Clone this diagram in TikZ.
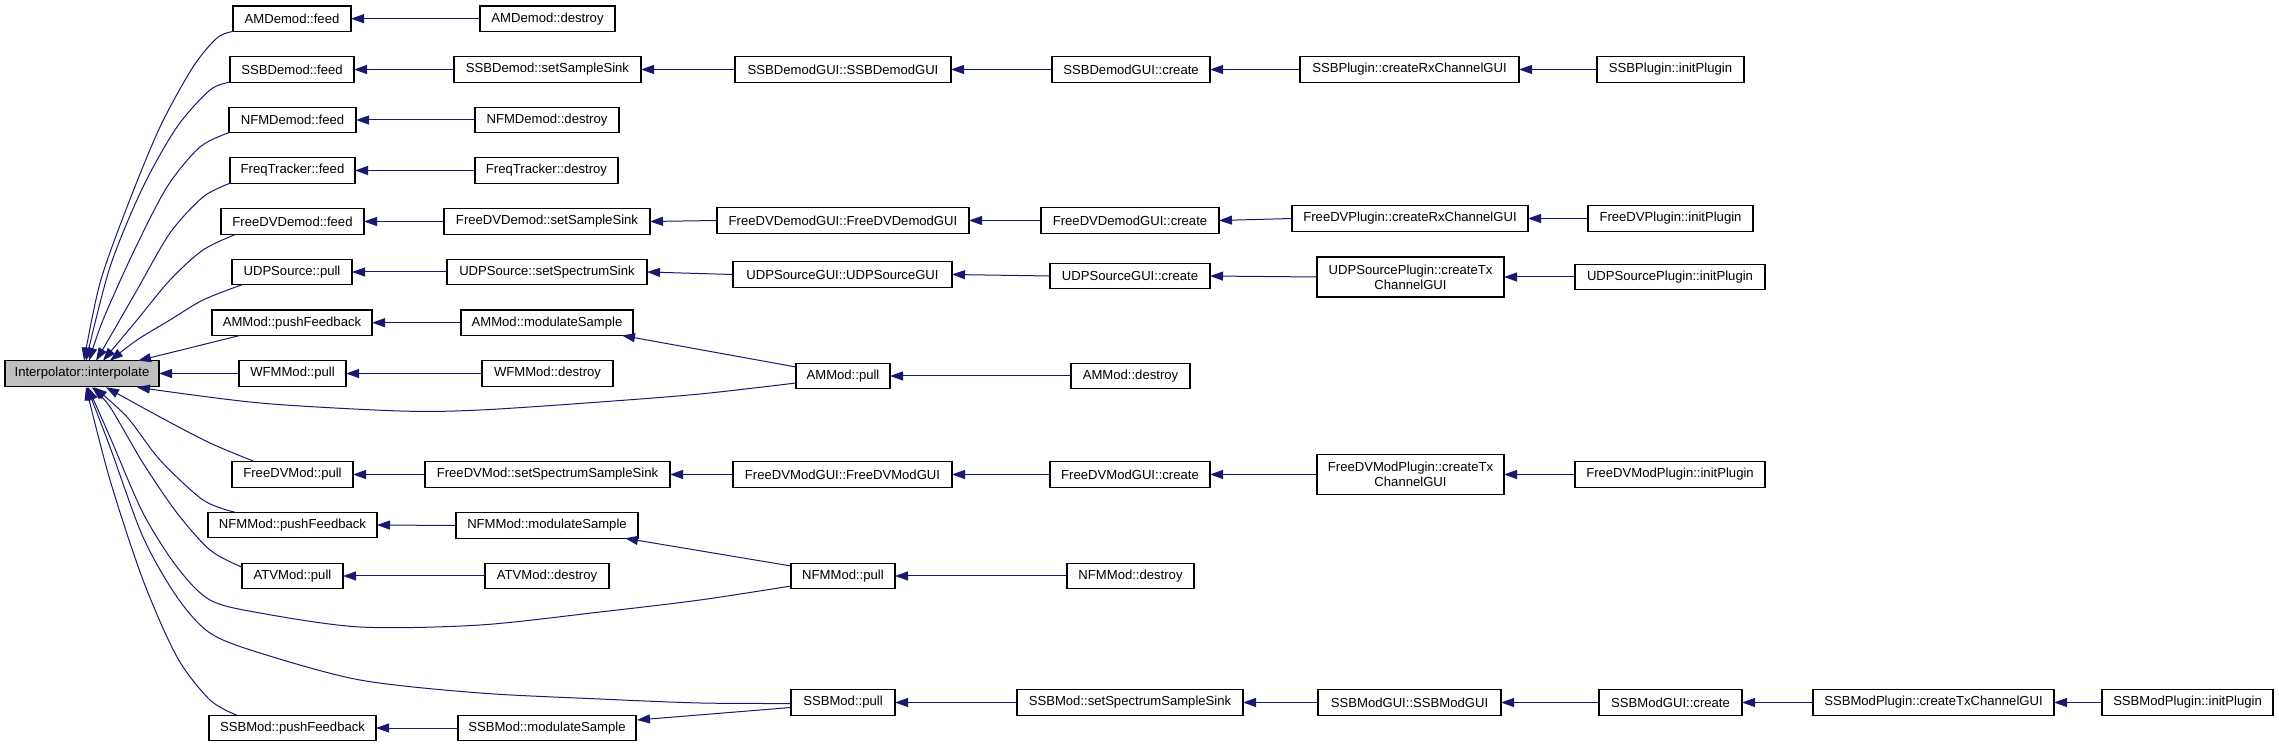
\documentclass[tikz,border=0pt]{standalone}
\usepackage{fontspec}
\setmainfont{Liberation Sans}
\usetikzlibrary{arrows.meta,calc}
\definecolor{edgec}{HTML}{191970}
\definecolor{interpfill}{HTML}{BFBFBF}
\tikzset{
  box/.style={draw=black, line width=0.6pt, rectangle, inner sep=0pt, outer sep=0pt,
    minimum height=12.75pt, font=\fontsize{6.55}{7.5}\selectfont, align=center, fill=white},
  twoline/.style={minimum height=20pt},
  edge/.style={draw=edgec, line width=0.5pt, -{Triangle[length=6.5pt,width=4.5pt]}},
}
\newcommand\nd[6][]{\node[box,#1,minimum width={(#4-#3)*0.5pt}] (#2) at ({(#3+#4)/2},#5) {#6};}
\begin{document}
\begin{tikzpicture}[x=0.5pt,y=-0.5pt]
\useasboundingbox (0,0) rectangle (2279,747);
\fill[white] (0,0) rectangle (2279,747);

% column 1
\nd[fill=interpfill]{interp}{5}{159}{373.5}{Interpolator::interpolate}
% column 2
\nd{amdf}{233}{351}{18.7}{AMDemod::feed}
\nd{ssbdf}{230}{354}{69.5}{SSBDemod::feed}
\nd{nfmdf}{229}{356}{120}{NFMDemod::feed}
\nd{fqtf}{230}{355}{170.5}{FreqTracker::feed}
\nd{fdvdf}{221}{364}{221.5}{FreeDVDemod::feed}
\nd{udpp}{232}{352}{272}{UDPSource::pull}
\nd{ammpf}{212}{372}{322.7}{AMMod::pushFeedback}
\nd{wfmp}{239}{346}{373.5}{WFMMod::pull}
\nd{fdvmp}{232}{353}{474.5}{FreeDVMod::pull}
\nd{nfmpf}{208}{377}{525}{NFMMod::pushFeedback}
\nd{atvp}{242}{343}{576}{ATVMod::pull}
\nd{ssbpf}{209}{376}{728}{SSBMod::pushFeedback}
% column 3
\nd{amdd}{480}{615}{18.7}{AMDemod::destroy}
\nd{ssbdss}{454}{641}{69.5}{SSBDemod::setSampleSink}
\nd{nfmdd}{475}{619}{120}{NFMDemod::destroy}
\nd{fqtd}{475}{618}{170.5}{FreqTracker::destroy}
\nd{fdvdss}{444}{650}{221.5}{FreeDVDemod::setSampleSink}
\nd{udpss}{447}{647}{272}{UDPSource::setSpectrumSink}
\nd{ammms}{461}{633}{322.7}{AMMod::modulateSample}
\nd{wfmd}{482}{613}{373.5}{WFMMod::destroy}
\nd{fdvmss}{425}{670}{474.5}{FreeDVMod::setSpectrumSampleSink}
\nd{nfmms}{456}{638}{525.5}{NFMMod::modulateSample}
\nd{atvd}{485}{609}{576}{ATVMod::destroy}
\nd{ssbms}{458}{636}{728}{SSBMod::modulateSample}
% column 4
\nd{ssbdgui}{735}{951}{69.5}{SSBDemodGUI::SSBDemodGUI}
\nd{fdvdgui}{717}{969}{220.5}{FreeDVDemodGUI::FreeDVDemodGUI}
\nd{udpgui}{733}{952}{274.5}{UDPSourceGUI::UDPSourceGUI}
\nd{ammp}{796}{890}{376}{AMMod::pull}
\nd{fdvmgui}{733}{952}{474.5}{FreeDVModGUI::FreeDVModGUI}
\nd{nfmp}{791}{895}{576}{NFMMod::pull}
\nd{ssbp}{791}{895}{702.5}{SSBMod::pull}
% column 5
\nd{ssbdgc}{1052}{1210}{69.5}{SSBDemodGUI::create}
\nd{fdvdgc}{1041}{1219}{220.5}{FreeDVDemodGUI::create}
\nd{udpgc}{1050}{1210}{276}{UDPSourceGUI::create}
\nd{ammd}{1071}{1190}{376}{AMMod::destroy}
\nd{fdvmgc}{1050}{1210}{474.5}{FreeDVModGUI::create}
\nd{nfmd}{1067}{1194}{576}{NFMMod::destroy}
\nd{ssbss}{1017}{1243}{702.5}{SSBMod::setSpectrumSampleSink}
% column 6
\nd{ssbprx}{1300}{1519}{69.5}{SSBPlugin::createRxChannelGUI}
\nd{fdvprx}{1292}{1528}{218.5}{FreeDVPlugin::createRxChannelGUI}
\nd[twoline]{udpptx}{1317}{1504}{277}{UDPSourcePlugin::createTx\\ChannelGUI}
\nd[twoline]{fdvmptx}{1317}{1504}{474.5}{FreeDVModPlugin::createTx\\ChannelGUI}
\nd{ssbmgui}{1318}{1501}{702.5}{SSBModGUI::SSBModGUI}
% column 7
\nd{ssbpinit}{1597}{1744}{69.5}{SSBPlugin::initPlugin}
\nd{fdvpinit}{1588}{1753}{218.5}{FreeDVPlugin::initPlugin}
\nd{udppinit}{1575}{1765}{277}{UDPSourcePlugin::initPlugin}
\nd{fdvmpinit}{1575}{1765}{474.5}{FreeDVModPlugin::initPlugin}
\nd{ssbmgc}{1599}{1742}{702.5}{SSBModGUI::create}
% columns 8, 9
\nd{ssbmptx}{1813}{2054}{702.5}{SSBModPlugin::createTxChannelGUI}
\nd{ssbmpinit}{2102}{2273}{702.5}{SSBModPlugin::initPlugin}

% straight edges
\draw[edge] (amdd.west) -- (amdf.east);
\draw[edge] (ssbdss.west) -- (ssbdf.east);
\draw[edge] (ssbdgui.west) -- (ssbdss.east);
\draw[edge] (ssbdgc.west) -- (ssbdgui.east);
\draw[edge] (ssbprx.west) -- (ssbdgc.east);
\draw[edge] (ssbpinit.west) -- (ssbprx.east);
\draw[edge] (nfmdd.west) -- (nfmdf.east);
\draw[edge] (fqtd.west) -- (fqtf.east);
\draw[edge] (fdvdss.west) -- (fdvdf.east);
\draw[edge] (fdvdgui.west) -- (fdvdss.east);
\draw[edge] (fdvdgc.west) -- (fdvdgui.east);
\draw[edge] (fdvprx.west) -- (fdvdgc.east);
\draw[edge] (fdvpinit.west) -- (fdvprx.east);
\draw[edge] (udpss.west) -- (udpp.east);
\draw[edge] (udpgui.west) -- (udpss.east);
\draw[edge] (udpgc.west) -- (udpgui.east);
\draw[edge] (udpptx.west) -- (udpgc.east);
\draw[edge] (udppinit.west) -- (udpptx.east);
\draw[edge] (ammms.west) -- (ammpf.east);
\draw[edge] (ammd.west) -- (ammp.east);
\draw[edge] (wfmd.west) -- (wfmp.east);
\draw[edge] (wfmp.west) -- (interp.east);
\draw[edge] (fdvmss.west) -- (fdvmp.east);
\draw[edge] (fdvmgui.west) -- (fdvmss.east);
\draw[edge] (fdvmgc.west) -- (fdvmgui.east);
\draw[edge] (fdvmptx.west) -- (fdvmgc.east);
\draw[edge] (fdvmpinit.west) -- (fdvmptx.east);
\draw[edge] (nfmms.west) -- (nfmpf.east);
\draw[edge] (nfmd.west) -- (nfmp.east);
\draw[edge] (atvd.west) -- (atvp.east);
\draw[edge] (ssbms.west) -- (ssbpf.east);
\draw[edge] (ssbss.west) -- (ssbp.east);
\draw[edge] (ssbmgui.west) -- (ssbss.east);
\draw[edge] (ssbmgc.west) -- (ssbmgui.east);
\draw[edge] (ssbmptx.west) -- (ssbmgc.east);
\draw[edge] (ssbmpinit.west) -- (ssbmptx.east);

% sloped edges
\coordinate (ammpA) at ($(ammp.west)+(0,-9)$);
\coordinate (ammmsT) at ($(ammms.south east)+(-11,0)$);
\draw[edge] (ammpA) -- (ammmsT);
\coordinate (nfmpA) at ($(nfmp.west)+(0,-10)$);
\coordinate (nfmmsT) at ($(nfmms.south east)+(-13,0)$);
\draw[edge] (nfmpA) -- (nfmmsT);
\coordinate (ssbpA) at ($(ssbp.west)+(0,5)$);
\coordinate (ssbmsT) at ($(ssbms.east)+(1,-8)$);
\draw[edge] (ssbpA) -- (ssbmsT);

% start points of curves
\coordinate (s1) at (amdf.south west);
\coordinate (s2) at (ssbdf.south west);
\coordinate (s3) at (nfmdf.south west);
\coordinate (s4) at (fqtf.south west);
\coordinate (s5) at ($(fdvdf.south west)+(15,0)$);
\coordinate (s6) at ($(udpp.south west)+(10,0)$);
\coordinate (s7) at ($(ammpf.south west)+(28,0)$);
\coordinate (s8) at ($(fdvmp.north west)+(23,0)$);
\coordinate (s9) at ($(nfmpf.north west)+(27,0)$);
\coordinate (s10) at ($(atvp.north west)+(0,4)$);
\coordinate (s11) at ($(nfmp.west)+(0,10)$);
\coordinate (s12) at ($(ssbp.west)+(0,1)$);
\coordinate (s13) at ($(ssbpf.north west)+(28,0)$);
\coordinate (s14) at ($(ammp.west)+(0,7)$);
% tip points on the interpolator box
\coordinate (e1) at ($(interp.north west)+(79,0)$);
\coordinate (e2) at ($(interp.north west)+(81,0)$);
\coordinate (e3) at ($(interp.north west)+(84,0)$);
\coordinate (e4) at ($(interp.north west)+(91,0)$);
\coordinate (e5) at ($(interp.north west)+(98,0)$);
\coordinate (e6) at ($(interp.north west)+(105,0)$);
\coordinate (e7) at ($(interp.north west)+(133,0)$);
\coordinate (e8) at ($(interp.south west)+(101,1)$);
\coordinate (e9) at ($(interp.south west)+(89,1)$);
\coordinate (e10) at ($(interp.south west)+(87,1)$);
\coordinate (e11) at ($(interp.south west)+(83,1)$);
\coordinate (e12) at ($(interp.south west)+(82,1)$);
\coordinate (e13) at ($(interp.south west)+(81,1)$);
\coordinate (e14) at ($(interp.south west)+(132,1)$);

\draw[edge] plot[smooth] coordinates {(s1) (217,38) (193,67) (160,127) (127,207) (100,283) (e1)};
\draw[edge] plot[smooth] coordinates {(s2) (210,90) (177,127) (143,187) (110,267) (e2)};
\draw[edge] plot[smooth] coordinates {(s3) (200,147) (167,187) (133,253) (103,320) (e3)};
\draw[edge] plot[smooth] coordinates {(s4) (203,197) (170,233) (137,290) (110,337) (e4)};
\draw[edge] plot[smooth] coordinates {(s5) (203,250) (170,280) (137,320) (e5)};
\draw[edge] plot[smooth] coordinates {(s6) (203,300) (170,320) (137,340) (e6)};
\draw[edge] (s7) -- (e7);
\draw[edge] plot[smooth] coordinates {(s8) (210,443) (160,417) (e8)};
\draw[edge] plot[smooth] coordinates {(s9) (203,500) (160,460) (127,417) (e9)};
\draw[edge] plot[smooth] coordinates {(s10) (210,550) (177,513) (143,463) (110,407) (e10)};
\draw[edge] plot[smooth] coordinates {(s11) (700,600) (600,612) (480,625) (360,627) (260,613) (210,600) (177,567) (143,513) (110,437) (e11)};
\draw[edge] plot[smooth] coordinates {(s12) (700,703) (600,699) (480,693) (360,680) (260,653) (210,633) (177,597) (143,537) (110,447) (e12)};
\draw[edge] plot[smooth] coordinates {(s13) (210,700) (177,657) (143,580) (110,480) (e13)};
\draw[edge] plot[smooth] coordinates {(s14) (700,394) (600,402) (480,410) (400,411) (260,403) (e14)};
\end{tikzpicture}
\end{document}
